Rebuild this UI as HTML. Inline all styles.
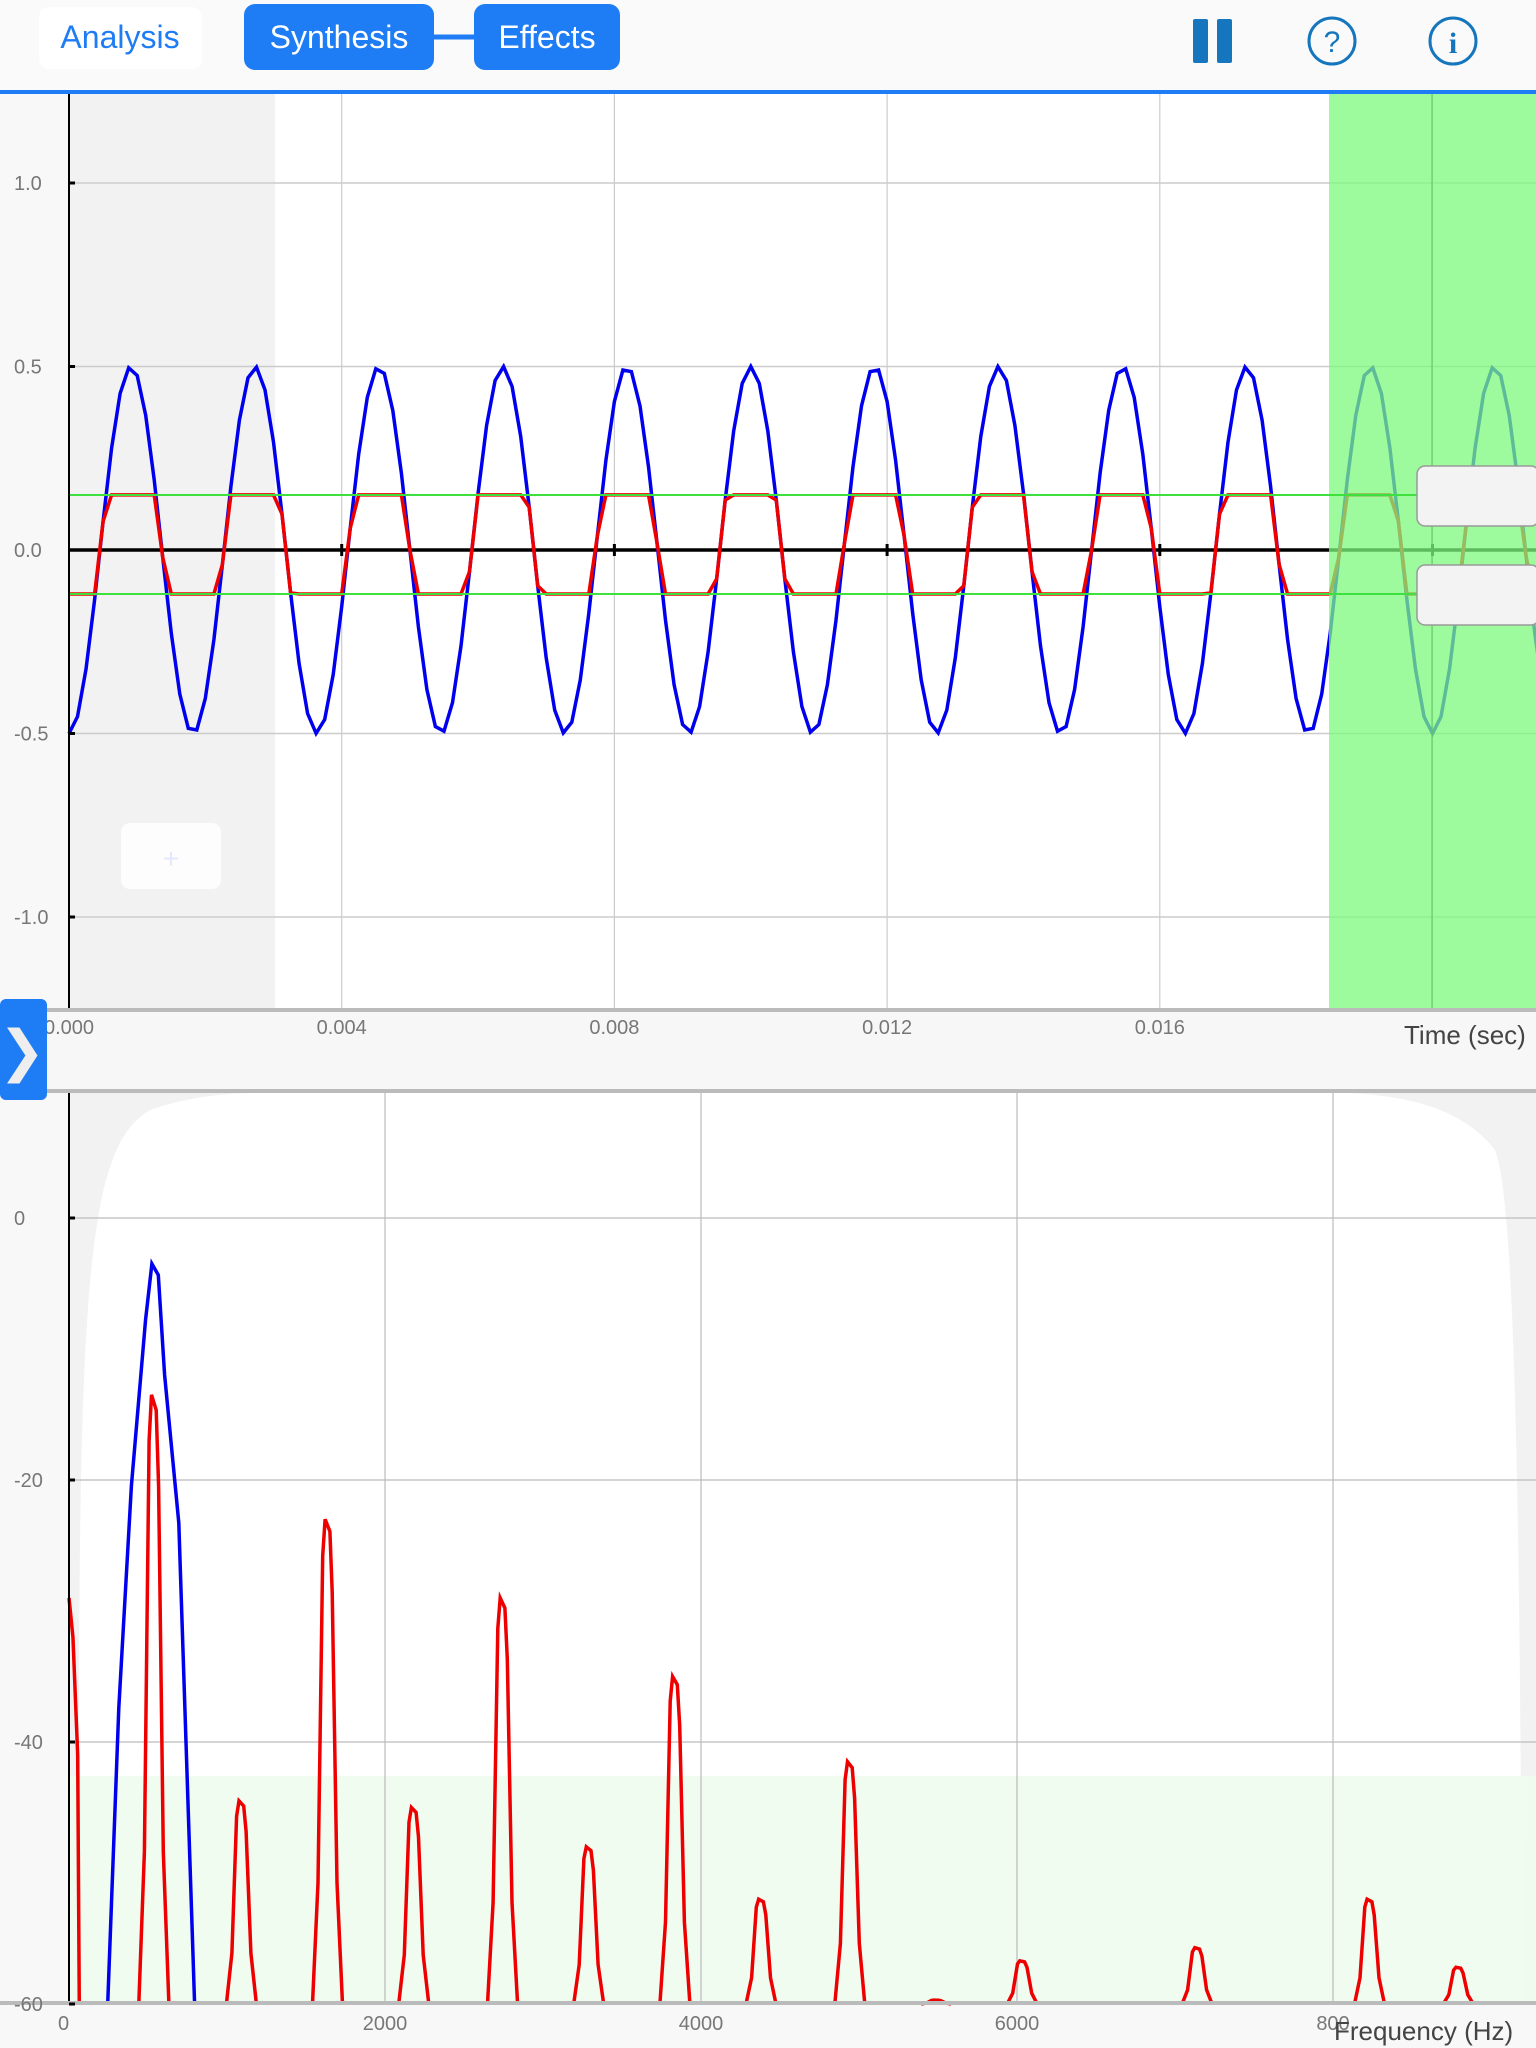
<!DOCTYPE html>
<html><head><meta charset="utf-8"><style>
html,body{margin:0;padding:0;width:1536px;height:2048px;overflow:hidden;background:#f8f8f8;font-family:"Liberation Sans",sans-serif}
svg{display:block}
</style></head><body>
<svg id="svg" width="1536" height="2048" viewBox="0 0 1536 2048" xmlns="http://www.w3.org/2000/svg">
<rect x="0" y="0" width="1536" height="91" fill="#fafafa"/>
<g><rect x="39" y="7" width="163" height="62" rx="10" fill="#fff"/><text x="120" y="48" font-size="32" fill="#1e7cf5" text-anchor="middle">Analysis</text></g>
<line x1="430" y1="37" x2="478" y2="37" stroke="#1e7cf5" stroke-width="5"/>
<g><rect x="244" y="4" width="190" height="66" rx="11" fill="#1e7cf5"/><text x="339" y="48" font-size="32" fill="#fff" text-anchor="middle">Synthesis</text></g>
<g><rect x="474" y="4" width="146" height="66" rx="11" fill="#1e7cf5"/><text x="547" y="48" font-size="32" fill="#fff" text-anchor="middle">Effects</text></g>
<g><rect x="1193" y="19" width="15" height="44" rx="2" fill="#1576be"/><rect x="1217" y="19" width="15" height="44" rx="2" fill="#1576be"/></g>
<g><circle cx="1332" cy="41" r="23" fill="none" stroke="#1576be" stroke-width="3"/><text x="1332" y="52" font-size="30" fill="#1576be" text-anchor="middle">?</text></g>
<g><circle cx="1453" cy="41" r="23" fill="none" stroke="#1576be" stroke-width="3"/><text x="1453" y="53" font-size="30" font-weight="bold" fill="#1576be" text-anchor="middle" font-family="Liberation Serif,serif">i</text></g>
<rect x="0" y="90" width="1536" height="4" fill="#1e7cf5"/>

<!-- time plot -->
<rect x="69" y="94" width="1467" height="916" fill="#fff"/>
<rect x="69" y="94" width="206" height="916" fill="#f2f2f2"/>
<g id="tgrid"></g>
<g id="tlines"></g>
<rect x="1329" y="94" width="207" height="916" fill="#7cfa7c" opacity="0.75"/>
<line x1="1432" y1="94" x2="1432" y2="1010" stroke="#5cc45c" stroke-width="1"/>
<g id="clipLines"></g>
<line x1="69" y1="94" x2="69" y2="1010" stroke="#000" stroke-width="2"/>
<g id="tyticks"></g>
<g><rect x="1417" y="466" width="122" height="60" rx="8" fill="#f3f3f3" stroke="#999" stroke-width="1.5"/></g>
<g><rect x="1417" y="565" width="122" height="60" rx="8" fill="#f3f3f3" stroke="#999" stroke-width="1.5"/></g>
<g><rect x="121" y="823" width="100" height="66" rx="9" fill="#fff" opacity="0.85"/><text x="171" y="868" font-size="28" fill="#e4e8ff" text-anchor="middle">+</text></g>
<rect x="0" y="1010" width="1536" height="81" fill="#f7f7f7"/>
<rect x="0" y="1008" width="1536" height="4" fill="#bbb"/>
<rect x="0" y="1089" width="1536" height="4" fill="#bbb"/>
<g id="txticks"></g>
<text x="1404" y="1044" font-size="26" fill="#444">Time (sec)</text>
<g><rect x="0" y="999" width="47" height="101" rx="6" fill="#1e7cf5"/><text x="22" y="1070" font-size="56" fill="#eee" text-anchor="middle">❯</text></g>

<!-- spectrum -->
<rect x="69" y="1093" width="1467" height="910" fill="#f2f2f2"/>
<path d="M80 2003 C76 1300,82 1150,150 1110 C190 1096,230 1093,260 1093 L1350 1093 C1400 1096,1460 1105,1495 1150 C1515 1200,1520 1500,1522 2003 Z" fill="#fff"/>
<rect x="69" y="1776" width="1467" height="227" fill="#f0fcf0" opacity="0.9"/>
<g id="fgrid"></g>
<g id="flines"></g>
<line x1="69" y1="1093" x2="69" y2="2003" stroke="#000" stroke-width="2"/>
<rect x="0" y="2001" width="1536" height="4" fill="#bbb"/>
<g id="fticks"></g>
<text x="1334" y="2040" font-size="26" fill="#444">Frequency (Hz)</text>
</svg>
<script>
const NS="http://www.w3.org/2000/svg";
// time chart data
const timeTicks=[0,0.004,0.008,0.012,0.016,0.020];
const timeTickLabels=["0.000","0.004","0.008","0.012","0.016",""];
const ampTicks=[1.0,0.5,0.0,-0.5,-1.0];
const ampTickLabels=["1.0","0.5","0.0","-0.5","-1.0"];
const toneFreq=[550];
const toneAmp=[0.5];
const clipLevels=[0.15,-0.12];
const sampleRate=[8000];
// spectrum data
const freqTicks=[0,2000,4000,6000,8000];
const freqTickLabels=["0","2000","4000","6000","800"];
const dbTicks=[0,-20,-40,-60];
const dbTickLabels=["0","-20","-40","-60"];
const blueFreqs=[545];
const blueDb=[-3.5];
const redFreqs=[0,537,1091,1636,2182,2744,3289,3835,4380,4942,5488,6033,7140,8231,8793];
const redDb=[-29,-13.5,-44.5,-23,-45,-29,-48,-35,-52,-41.5,-59.7,-56.7,-55.7,-52,-57.2];

const X0=69, TPX=272.7/0.004, Y0=550, APX=367;
const tx=t=>X0+t*TPX, ty=a=>Y0-a*APX;
const FPX=316/2000, fx=f=>X0+f*FPX, DB0=1218, DPX=262/20, fy=d=>DB0-d*DPX;
const g=id=>document.getElementById(id);
function mk(tag,attrs,parent){const e=document.createElementNS(NS,tag);for(const k in attrs)e.setAttribute(k,attrs[k]);parent.appendChild(e);return e;}

// time grids
timeTicks.forEach((t,i)=>{
 if(i>0){const l=mk('line',{x1:tx(t),y1:94,x2:tx(t),y2:1010,stroke:'#ccc','stroke-width':1.2},g('tgrid'));
 
 }
 const tt=mk('text',{x:tx(t),y:1034,'font-size':20,fill:'#777','text-anchor':'middle'},g('txticks'));
 tt.textContent=timeTickLabels[i];
 
 
 if(i>0){mk('line',{x1:tx(t),y1:Y0-6,x2:tx(t),y2:Y0+6,stroke:'#000','stroke-width':3},g('tlines'));}
});
ampTicks.forEach((a,i)=>{
 if(a!==0){const l=mk('line',{x1:69,y1:ty(a),x2:1536,y2:ty(a),stroke:'#ccc','stroke-width':1.5},g('tgrid'));
 
 }
 mk('line',{x1:69,y1:ty(a),x2:75,y2:ty(a),stroke:'#000','stroke-width':3},g('tyticks'));
 const tt=mk('text',{x:14,y:ty(a)+7,'font-size':20,fill:'#777'},g('tyticks'));
 tt.textContent=ampTickLabels[i];
 
 
});
const zl=mk('line',{x1:69,y1:Y0,x2:1536,y2:Y0,stroke:'#000','stroke-width':3.5},g('tgrid'));


// waveform
const n=Math.ceil(0.0216*sampleRate[0]);
let bp=[],rp=[];
for(let i=0;i<=n;i++){const t=i/sampleRate[0];
 const v=-toneAmp[0]*Math.cos(2*Math.PI*toneFreq[0]*t);
 const c=Math.max(clipLevels[1],Math.min(clipLevels[0],v));
 bp.push(tx(t).toFixed(1)+','+ty(v).toFixed(1));rp.push(tx(t).toFixed(1)+','+ty(c).toFixed(1));}
const bl=mk('polyline',{points:bp.join(' '),fill:'none',stroke:'#0000ee','stroke-width':3.5},g('tlines'));


const rl=mk('polyline',{points:rp.join(' '),fill:'none',stroke:'#ee0000','stroke-width':3.5},g('tlines'));


clipLevels.forEach(c=>{const l=mk('line',{x1:69,y1:ty(c),x2:1536,y2:ty(c),stroke:'#3ee03e','stroke-width':2},g('clipLines'));
 
 });

// spectrum grids
freqTicks.forEach((f,i)=>{
 if(i>0){const l=mk('line',{x1:fx(f),y1:1093,x2:fx(f),y2:2003,stroke:'#bbb','stroke-width':1.2},g('fgrid'));
 
 }
 const tt=mk('text',{x:fx(f)-(i===0?11:0),y:2030,'font-size':20,fill:'#777','text-anchor':i===0?'start':'middle'},g('fticks'));
 tt.textContent=freqTickLabels[i];
 
 
});
dbTicks.forEach((d,i)=>{
 if(d>-60){const l=mk('line',{x1:69,y1:fy(d),x2:1536,y2:fy(d),stroke:'#bbb','stroke-width':1.2},g('fgrid'));
 
 }
 mk('line',{x1:69,y1:fy(d),x2:75,y2:fy(d),stroke:'#000','stroke-width':3},g('fticks'));
 const tt=mk('text',{x:14,y:fy(d)+7,'font-size':20,fill:'#777'},g('fticks'));
 tt.textContent=dbTickLabels[i];
 
 
});
const shape=[[-95,-99],[-60,-15],[-30,-1.5],[-15,0],[15,-0.5],[30,-3],[60,-15],[95,-99]];
const bshape=[[-300,-99],[-230,-12],[-150,-6],[-60,-1.5],[-20,0],[20,-0.3],[60,-3],[150,-7],[250,-99]];
function peakPts(f,d,sh){const pts=[];sh.forEach(([o,dd])=>{const ff=f+o;if(ff<0)return;const v=Math.max(-60,d+(dd<-90?-200:dd*(d+60)/20));pts.push(fx(ff).toFixed(1)+','+fy(v).toFixed(1));});return pts.join(' ');}
blueFreqs.forEach((f,i)=>{const p=mk('polyline',{points:peakPts(f,blueDb[i],bshape),fill:'none',stroke:'#0000ee','stroke-width':3.5},g('flines'));
 
 });
redFreqs.forEach((f,i)=>{let pts;
 if(f===0){pts=fx(0)+','+fy(redDb[i])+' '+fx(25)+','+fy(redDb[i]-3)+' '+fx(55)+','+fy(-41)+' '+fx(65)+','+fy(-60);}
 else pts=peakPts(f,redDb[i],shape);
 const p=mk('polyline',{points:pts,fill:'none',stroke:'#ee0000','stroke-width':3.5},g('flines'));
 
 });
</script>
</body></html>
